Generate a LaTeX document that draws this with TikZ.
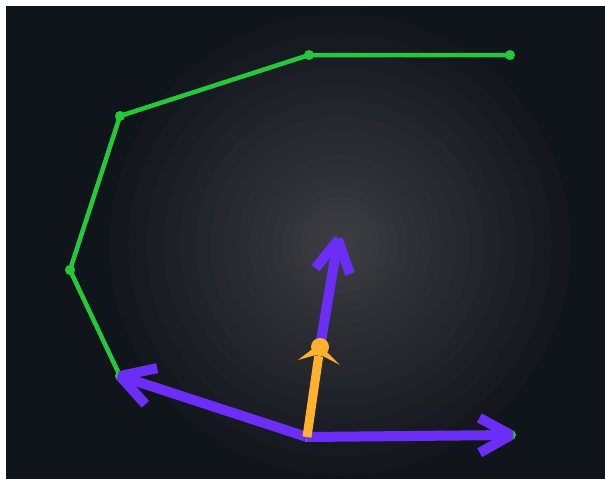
\documentclass[tikz,border=0pt]{standalone}
\usetikzlibrary{calc}
\definecolor{bgc}{HTML}{10141B}
\definecolor{glowc}{HTML}{5A5B60}
\definecolor{grn}{HTML}{24C93B}
\definecolor{purp}{HTML}{6A2EF7}
\definecolor{orng}{HTML}{FFB02E}
\tikzset{
  glowring/.style={fill=glowc, fill opacity=0.055},
  greenline/.style={draw=grn, line width=4.5pt, line join=round},
  greendot/.style={fill=grn},
  vecline/.style={draw=purp, line width=10pt},
  vecbarb/.style={draw=purp, line width=10pt, line join=miter, miter limit=1.5},
  orangeline/.style={draw=orng, line width=9pt},
}
\begin{document}
\begin{tikzpicture}[x=1pt,y=-1pt]
\useasboundingbox (0,0) rectangle (605,479);
\fill[white] (0,0) rectangle (605,479);
\coordinate (c) at (340,245);
\begin{scope}
\clip (6,6) rectangle (605,479);
\fill[bgc] (6,6) rectangle (605,479);
\foreach \k in {1,...,24} \fill[glowring] (c) circle ({0.4*\k*\k});
\end{scope}
% points
\coordinate (p1) at (510,55);
\coordinate (p2) at (309,55);
\coordinate (p3) at (120,116);
\coordinate (p4) at (70,270);
\coordinate (p5) at (120,376);
\coordinate (o) at (307,437);
\coordinate (p7) at (511,435);
\coordinate (h) at (320,347);
\coordinate (t) at (338,240);
% green path
\draw[greenline] (p1) -- (p2) -- (p3) -- (p4) -- (p5) -- (o) -- (p7);
\foreach \p in {p1,p2,p3,p4,p5,o,p7} \fill[greendot] (\p) circle (5);
% purple vectors
\draw[vecline] (o) -- (p5);
\draw[vecbarb] ($(p5)!38pt!30:(o)$) -- (p5) -- ($(p5)!38pt!-30:(o)$);
\draw[vecline] (o) -- (p7);
\draw[vecbarb] ($(p7)!36pt!29:(o)$) -- (p7) -- ($(p7)!36pt!-29:(o)$);
\draw[vecline] (h) -- (t);
\draw[vecbarb] ($(t)!36pt!29:(h)$) -- (t) -- ($(t)!36pt!-29:(h)$);
% orange vector
\draw[orangeline] (o) -- ($(o)!0.9!(h)$);
\fill[orng] (h) circle (9);
\fill[orng] ($(h)+(-1,-3)$) -- (298,360) -- (319,354) -- (340,365) -- cycle;
\end{tikzpicture}
\end{document}
